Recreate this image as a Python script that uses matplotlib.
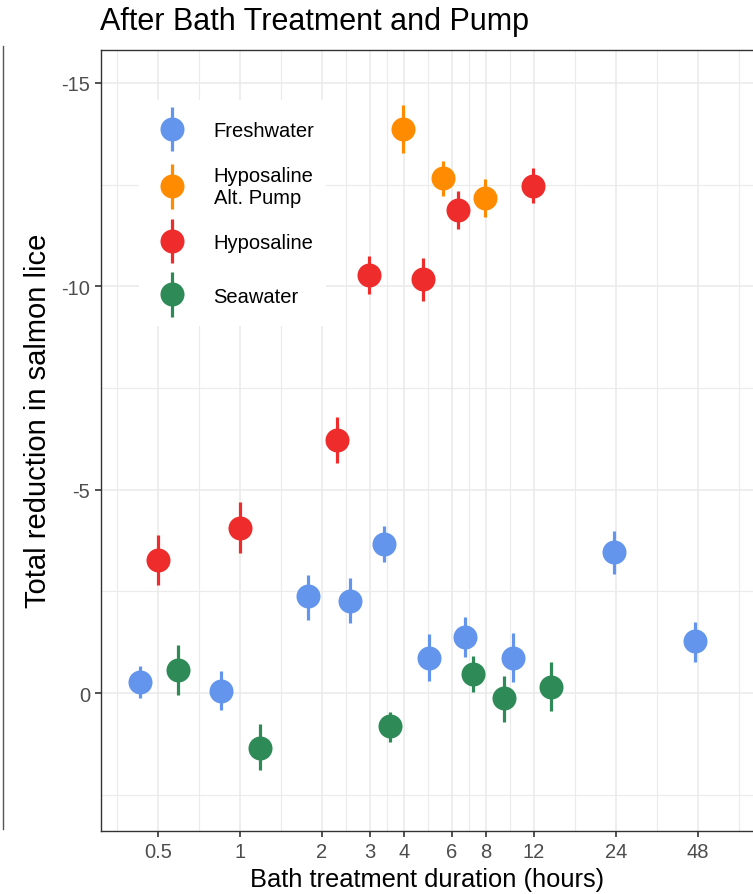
import matplotlib
matplotlib.use("Agg")
import matplotlib.pyplot as plt
from matplotlib.lines import Line2D
from matplotlib.legend_handler import HandlerBase
from matplotlib.ticker import NullFormatter
import numpy as np

plt.rcParams["font.family"] = ["Liberation Sans", "DejaVu Sans"]

# Treatment groups: duration (h), mean reduction and interval bounds
fresh_x = [0.43, 0.85, 1.77, 2.53, 3.37, 4.94, 6.72, 10.05, 23.6, 47.0]
fresh_y = [-0.28, -0.06, -2.38, -2.27, -3.66, -0.86, -1.37, -0.86, -3.47, -1.27]
fresh_lo = [-0.67, -0.55, -2.91, -2.82, -4.11, -1.45, -1.86, -1.48, -3.99, -1.76]
fresh_hi = [0.13, 0.42, -1.80, -1.72, -3.23, -0.29, -0.88, -0.28, -2.94, -0.77]

alt_x = [3.98, 5.58, 7.91]
alt_y = [-13.87, -12.66, -12.17]
alt_lo = [-14.46, -13.09, -12.64]
alt_hi = [-13.28, -12.21, -11.70]

hypo_x = [0.50, 1.0, 2.27, 2.98, 4.69, 6.33, 11.88]
hypo_y = [-3.27, -4.06, -6.22, -10.29, -10.18, -11.88, -12.47]
hypo_lo = [-3.88, -4.70, -6.79, -10.75, -10.69, -12.34, -12.90]
hypo_hi = [-2.66, -3.44, -5.66, -9.80, -9.65, -11.41, -12.05]

sea_x = [0.594, 1.18, 3.54, 7.17, 9.33, 13.9]
sea_y = [-0.57, 1.34, 0.82, -0.47, 0.12, -0.16]
sea_lo = [-1.19, 0.75, 0.47, -0.90, -0.43, -0.77]
sea_hi = [0.05, 1.89, 1.20, -0.02, 0.70, 0.45]

x_ticks = [0.5, 1, 2, 3, 4, 6, 8, 12, 24, 48]
x_tick_labels = ["0.5", "1", "2", "3", "4", "6", "8", "12", "24", "48"]
y_ticks = [-15, -10, -5, 0]
y_tick_labels = ["-15", "-10", "-5", "0"]

groups = [
    ("Freshwater", "#6495ED", fresh_x, fresh_y, fresh_lo, fresh_hi),
    ("Hyposaline\nAlt. Pump", "#FF8C00", alt_x, alt_y, alt_lo, alt_hi),
    ("Hyposaline", "#EE2C2C", hypo_x, hypo_y, hypo_lo, hypo_hi),
    ("Seawater", "#2E8B57", sea_x, sea_y, sea_lo, sea_hi),
]

MS = 17.3      # point diameter (pt)
ELW = 2.3      # interval line width (pt)


class PointRangeKey(HandlerBase):
    """Legend key: a dot with a vertical interval line through it."""

    def create_artists(self, legend, orig_handle, xdescent, ydescent,
                       width, height, fontsize, trans):
        col = orig_handle.get_color()
        cx = 0.5 * width - xdescent
        cy = 0.5 * (height - ydescent) - 3.6
        bar = Line2D([cx, cx], [cy - 16, cy + 16], color=col, lw=ELW,
                     solid_capstyle="butt", transform=trans)
        dot = Line2D([cx], [cy], marker="o", ms=MS, mew=0, color=col,
                     ls="none", transform=trans)
        return [bar, dot]


W, H = 753, 895
fig = plt.figure(figsize=(W / 100, H / 100), dpi=100)

# panel in pixel units (runs past the right edge of the canvas)
left, right, top, bottom = 101, 790, 51, 832
ax = fig.add_axes([left / W, 1 - bottom / H, (right - left) / W, (bottom - top) / H])

ax.set_xscale("log", base=2)
ax.set_xlim(0.309, 104.5)
ax.set_ylim(3.39, -15.81)

# grid: majors at the breaks, minors midway on the log / linear scale
minor_x = [0.5 / np.sqrt(2)] + [np.sqrt(a * b) for a, b in zip(x_ticks[:-1], x_ticks[1:])] + [48 * np.sqrt(2)]
ax.set_xticks(x_ticks)
ax.set_xticklabels(x_tick_labels)
ax.set_xticks(minor_x, minor=True)
ax.xaxis.set_minor_formatter(NullFormatter())
ax.set_yticks(y_ticks)
ax.set_yticklabels(y_tick_labels)
ax.set_yticks([-12.5, -7.5, -2.5, 2.5], minor=True)
ax.yaxis.set_minor_formatter(NullFormatter())

gcol = "#EBEBEB"
ax.grid(True, which="major", color=gcol, lw=1.2)
ax.grid(True, which="minor", color=gcol, lw=0.8)
ax.set_axisbelow(True)

ax.tick_params(which="major", length=4, width=1.2, color="#333333",
               labelsize=14.5, labelcolor="#4D4D4D", pad=4)
ax.tick_params(which="minor", length=0)
for s in ax.spines.values():
    s.set_color("#333333")
    s.set_linewidth(1.0)

handles = []
for label, col, xs, ys, lo, hi in groups:
    ys_a = np.array(ys)
    yerr = [ys_a - np.array(lo), np.array(hi) - ys_a]
    ax.errorbar(xs, ys, yerr=yerr, fmt="o", color=col, ms=MS, mew=0,
                elinewidth=ELW, capsize=0, zorder=3)
    handles.append(Line2D([], [], color=col))

leg = ax.legend(handles, [g[0] for g in groups],
                handler_map={Line2D: PointRangeKey()},
                loc="upper left", bbox_to_anchor=(139 / W, 1 - 101 / H), bbox_transform=fig.transFigure,
                frameon=True, facecolor="white", edgecolor="none", fancybox=False, framealpha=1,
                fontsize=14.5, handlelength=2.1, handleheight=2.4, handletextpad=1.0,
                labelspacing=0.85, borderpad=0.6, borderaxespad=0)
leg.set_zorder(5)

fig.text(100 / W, 1 - 22 / H, "After Bath Treatment and Pump", fontsize=22,
         ha="left", va="center", color="black")
fig.text(427 / W, 1 - 880 / H, "Bath treatment duration (hours)", fontsize=18.4,
         ha="center", va="center", color="black")
fig.text(38 / W, 1 - 421 / H, "Total reduction in salmon lice", fontsize=21,
         ha="center", va="center", rotation=90, color="black")

# frame edge of the neighbouring panel on the left
fig.add_artist(Line2D([3 / W, 3 / W], [1 - 47 / H, 1 - 830 / H], transform=fig.transFigure,
                      color="#555555", lw=1.0))

fig.savefig("out.png", dpi=100)
